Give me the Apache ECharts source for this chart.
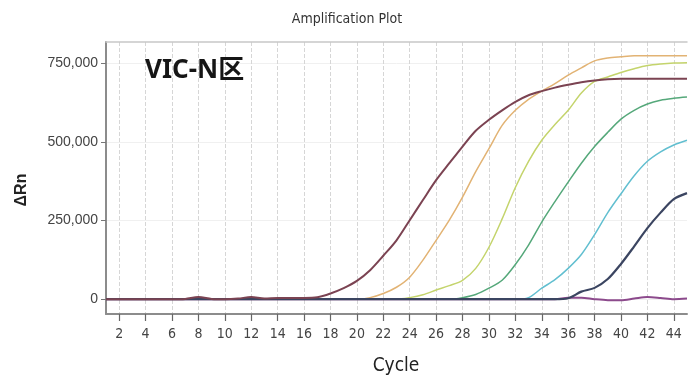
<!DOCTYPE html>
<html>
<head>
<meta charset="utf-8">
<script src="https://cdn.jsdelivr.net/npm/echarts@6/dist/echarts.min.js"></script>
<style>
  html, body { margin: 0; padding: 0; background: #ffffff; }
  #chart { width: 691px; height: 381px; }
</style>
</head>
<body>
<div id="chart"></div>
<script>
// ---- data ----
const cycles = [1,2,3,4,5,6,7,8,9,10,11,12,13,14,15,16,17,18,19,20,21,22,23,24,25,26,27,28,29,30,31,32,33,34,35,36,37,38,39,40,41,42,43,44,45];

const xTicks = [2,4,6,8,10,12,14,16,18,20,22,24,26,28,30,32,34,36,38,40,42,44];
const xTickLabels = ['2','4','6','8','10','12','14','16','18','20','22','24','26','28','30','32','34','36','38','40','42','44'];
const yTicks = [0, 250000, 500000, 750000];
const yTickLabels = ['0', '250,000', '500,000', '750,000'];

const ntcPurple = [0,0,0,0,0,0,0,0,0,0,0,0,0,0,0,0,0,0,0,0,0,0,0,0,0,0,0,0,0,0,0,0,0,0,0,5000,5000,0,-3000,-3000,2000,7000,4000,0,2000];
const cyanVals = [0,0,0,0,0,0,0,0,0,0,0,0,0,0,0,0,0,0,0,0,0,0,0,0,0,0,0,0,0,0,0,0,5000,35000,62000,98000,142000,205000,275000,335000,392000,438000,468000,490000,505000];
const greenVals = [0,0,0,0,0,0,0,0,0,0,0,0,0,0,0,0,0,0,0,0,0,0,0,0,0,0,0,5000,15000,35000,60000,110000,172000,245000,310000,372000,432000,485000,530000,572000,600000,620000,632000,638000,642000];
const yellowVals = [0,0,0,0,0,0,0,0,0,0,0,0,0,0,0,0,0,0,0,0,0,0,0,5000,14000,29000,43000,60000,98000,165000,255000,355000,438000,505000,555000,600000,655000,692000,706000,720000,732000,742000,747000,750000,751000];
const orangeVals = [0,0,0,0,0,0,0,0,0,0,0,0,0,0,0,0,0,0,0,0,5000,18000,38000,70000,124000,187000,251000,324000,405000,478000,552000,600000,635000,661000,685000,712000,735000,757000,766000,770000,773000,773000,773000,773000,773000];
const navyVals = [0,0,0,0,0,0,0,0,0,0,0,0,0,0,0,0,0,0,0,0,0,0,0,0,0,0,0,0,0,0,0,0,0,0,0,3000,24000,36000,64000,112000,168000,226000,275000,318000,337000];
const brownVals = [0,0,0,0,0,0,1000,7000,1000,0,2000,7000,2000,4000,4000,4000,6000,18000,35000,58000,92000,138000,187000,251000,315000,378000,432000,485000,535000,570000,600000,627000,648000,661000,672000,681000,689000,695000,699000,700000,700000,700000,700000,700000,700000];

const seriesDefs = [
  { name: 'NTC', values: ntcPurple, color: '#8c4a8c', width: 2 },
  { name: 'S6', values: cyanVals, color: '#62bfd0', width: 1.5 },
  { name: 'S5', values: greenVals, color: '#55a87a', width: 1.5 },
  { name: 'S4', values: yellowVals, color: '#c4d46c', width: 1.5 },
  { name: 'S3', values: orangeVals, color: '#e2b374', width: 1.5 },
  { name: 'S7', values: navyVals, color: '#3b4561', width: 2.2 },
  { name: 'S1', values: brownVals, color: '#7b4352', width: 2 }
];

const narrow = "'Liberation Sans Narrow', 'DejaVu Sans Condensed', 'Liberation Sans', sans-serif";
const regular = "'Liberation Sans', Arial, sans-serif";

const chart = echarts.init(document.getElementById('chart'), null, { renderer: 'canvas' });

const option = {
  animation: false,
  backgroundColor: '#ffffff',
  grid: { left: 106, right: 4, top: 42, bottom: 67 },
  xAxis: [{
    type: 'value', min: 1, max: 45,
    axisLine: { show: true, onZero: false, lineStyle: { color: '#8c8c8c', width: 2 } },
    axisTick: { show: true, customValues: xTicks, length: 7, lineStyle: { color: '#666', width: 1.2 } },
    axisLabel: {
      customValues: xTicks, margin: 13,
      formatter: v => xTickLabels[xTicks.indexOf(v)],
      color: '#444', fontSize: 14, fontFamily: narrow
    },
    splitLine: { show: true, lineStyle: { type: 'dashed', color: '#d6d6d6', width: 1 } }
  }, {
    type: 'value', min: 1, max: 45, position: 'top',
    axisLine: { show: true, onZero: false, lineStyle: { color: '#c8c8c8', width: 1.5 } },
    axisTick: { show: false }, axisLabel: { show: false }, splitLine: { show: false }
  }],
  yAxis: {
    type: 'value', min: -47000, max: 817000,
    axisLine: { show: true, onZero: false, lineStyle: { color: '#8c8c8c', width: 2 } },
    axisTick: { show: true, customValues: yTicks, length: 5, lineStyle: { color: '#777' } },
    axisLabel: {
      customValues: yTicks, margin: 8,
      formatter: v => yTickLabels[yTicks.indexOf(v)],
      color: '#444', fontSize: 14, fontFamily: regular
    },
    splitLine: { show: true, lineStyle: { color: '#f0f0f0', width: 1 } }
  },
  series: seriesDefs.map(s => ({
    type: 'line',
    name: s.name,
    xAxisIndex: 0,
    data: cycles.map((c, i) => [c, s.values[i]]),
    showSymbol: false,
    smooth: 0.3,
    lineStyle: { color: s.color, width: s.width },
    itemStyle: { color: s.color }
  })),
  graphic: [
    { type: 'text', z: 100, x: 347, y: 19, style: { text: 'Amplification Plot', font: "14px " + narrow, fill: '#333', textAlign: 'center', textVerticalAlign: 'middle' } },
    { type: 'text', z: 100, x: 145, y: 71, style: { text: 'VIC-N区', font: "bold 26px 'Noto Sans', 'Noto Sans CJK SC', sans-serif", fill: '#151515', textAlign: 'left', textVerticalAlign: 'middle' } },
    { type: 'text', z: 100, x: 22, y: 190, rotation: Math.PI / 2, style: { text: 'ΔRn', font: "bold 16px " + regular, fill: '#222', textAlign: 'center', textVerticalAlign: 'middle' } },
    { type: 'text', z: 100, x: 396, y: 366, style: { text: 'Cycle', font: "19px " + narrow, fill: '#222', textAlign: 'center', textVerticalAlign: 'middle' } }
  ]
};

chart.setOption(option);
</script>
</body>
</html>
